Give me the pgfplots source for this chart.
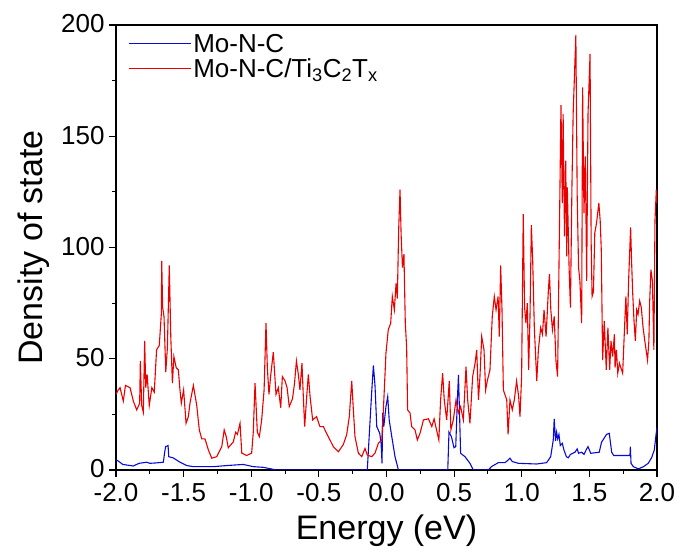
\documentclass[border=0pt]{standalone}
\usepackage{fontspec}
\setmainfont{Liberation Sans}
\usepackage{pgfplots}
\pgfplotsset{compat=1.18}
\definecolor{dosblue}{RGB}{10,10,215}
\definecolor{dosred}{RGB}{235,0,0}

\begin{document}
\begin{tikzpicture}
\useasboundingbox (0,0) rectangle (681bp,558bp);
\begin{axis}[
  at={(116bp,88bp)}, anchor=south west,
  scale only axis, width=541bp, height=445bp,
  xmin=-2, xmax=2, ymin=0, ymax=200,
  xtick={-2,-1.5,...,2}, ytick={0,50,...,200},
  minor x tick num=1, minor y tick num=1,
  xtick pos=bottom, ytick pos=left,
  tick align=outside,
  major tick length=7bp, minor tick length=4bp,
  every tick/.style={black, line width=1.1bp},
  axis line style={line width=1.2bp},
  /pgf/number format/assume math mode=true,
  x tick label style={/pgf/number format/fixed, /pgf/number format/fixed zerofill,
    /pgf/number format/precision=1, yshift=-3bp},
  y tick label style={xshift=-1bp, yshift=1bp},
  ticklabel style={font=\fontsize{26bp}{30bp}\selectfont},
  xlabel={Energy (eV)}, ylabel={Density of state},
  label style={font=\fontsize{34bp}{40bp}\selectfont},
  xlabel style={at={(axis description cs:0.5,-0.137)}, anchor=center},
  ylabel style={at={(axis description cs:-0.152,0.5)}, anchor=center},
  legend style={at={(axis description cs:0.022,0.985)}, anchor=north west, draw=none, fill=none,
    font=\fontsize{26bp}{30bp}\selectfont, row sep=1bp, inner sep=0pt},
  legend cell align=left,
  legend image code/.code={\draw[#1, line width=1.2bp] (0bp,0bp) -- (62bp,0bp);},
]
% Mo-N-C
\addplot[dosblue, line width=1.1bp, no markers, sharp plot] coordinates {
(-2.000,4.5) (-1.983,4) (-1.950,2.5) (-1.872,1.8) (-1.830,3) (-1.773,3.5) (-1.750,3)
(-1.700,3.2) (-1.650,3.5) (-1.640,8) (-1.633,10.5) (-1.615,11) (-1.610,6) (-1.576,5.4)
(-1.527,3.5) (-1.477,2) (-1.428,1.5) (-1.280,1.5) (-1.182,2) (-1.059,2.5) (-0.985,1.5)
(-0.911,1.2) (-0.812,0) (-0.142,0) (-0.110,34.5) (-0.097,47) (-0.085,38) (-0.072,19.5)
(-0.050,16.5) (-0.040,12) (-0.033,3) (-0.028,25.6) (-0.020,19.5) (-0.004,28.5) (0.009,33)
(0.020,22.5) (0.039,15) (0.063,6) (0.088,0) (0.453,0) (0.462,17) (0.480,15) (0.499,10)
(0.512,10.5) (0.524,31.5) (0.532,42.7) (0.540,25.6) (0.548,7.5) (0.580,6) (0.617,3)
(0.642,0) (0.753,0) (0.778,1.6) (0.827,3.3) (0.876,3.3) (0.900,4.5) (0.913,5.3) (0.930,3.8)
(0.975,3) (1.110,2.7) (1.184,3.3) (1.214,6) (1.233,13.5) (1.240,23) (1.250,13) (1.258,17)
(1.266,14) (1.275,16) (1.285,11) (1.300,12) (1.312,9) (1.330,6) (1.344,5.5) (1.360,7)
(1.394,8) (1.410,9.5) (1.420,7.5) (1.443,8) (1.460,7) (1.480,9.5) (1.490,10.5) (1.510,7.5)
(1.573,8) (1.590,12.5) (1.627,16) (1.647,16.5) (1.665,8) (1.680,6.5) (1.800,6.5) (1.803,10.5)
(1.808,3) (1.825,1.5) (1.862,0.5) (1.900,1.5) (1.935,3) (1.960,5.5) (1.980,9) (1.993,16) (2.000,19)
};
\addlegendentry{Mo-N-C}
% Mo-N-C/Ti3C2Tx
\addplot[dosred, line width=1.1bp, no markers, sharp plot] coordinates {
(-2.000,34) (-1.983,36) (-1.970,37) (-1.946,31) (-1.930,38) (-1.896,37) (-1.872,31)
(-1.847,27) (-1.825,30) (-1.820,49) (-1.810,29) (-1.798,26) (-1.788,58) (-1.780,37)
(-1.770,43) (-1.754,29) (-1.735,37) (-1.717,35) (-1.700,54) (-1.680,56) (-1.665,70)
(-1.662,94) (-1.655,73) (-1.645,69) (-1.632,44) (-1.620,55) (-1.606,92) (-1.595,60)
(-1.583,39) (-1.572,51) (-1.555,46) (-1.539,45) (-1.527,36) (-1.517,30) (-1.500,36)
(-1.482,21) (-1.465,24) (-1.453,30) (-1.428,38) (-1.403,29) (-1.384,18) (-1.366,14)
(-1.342,14) (-1.317,9) (-1.292,5.3) (-1.255,6) (-1.218,10.5) (-1.200,18) (-1.185,15)
(-1.170,10) (-1.133,12.6) (-1.115,17) (-1.102,16) (-1.083,21) (-1.070,7.6) (-1.034,6.5)
(-0.997,7.6) (-0.985,17) (-0.972,39) (-0.955,17) (-0.940,15) (-0.923,22.5) (-0.905,36)
(-0.891,66) (-0.881,46) (-0.869,34) (-0.857,42) (-0.837,53) (-0.817,34) (-0.800,37)
(-0.782,28) (-0.770,42) (-0.750,40) (-0.735,37) (-0.719,28.5) (-0.695,32) (-0.680,39)
(-0.666,49) (-0.652,43) (-0.640,36) (-0.625,48) (-0.615,33) (-0.605,19.5) (-0.590,33)
(-0.578,43) (-0.565,33) (-0.546,22.5) (-0.517,24) (-0.492,19.5) (-0.467,19.5) (-0.443,16.5)
(-0.418,13.5) (-0.393,10.5) (-0.356,8.2) (-0.319,11.5) (-0.294,16) (-0.275,24) (-0.257,40)
(-0.245,27) (-0.233,15) (-0.208,7.6) (-0.183,6) (-0.159,9.7) (-0.142,6.7) (-0.109,6)
(-0.085,7.6) (-0.060,12) (-0.035,13.5) (-0.024,25.6) (-0.004,52.5) (0.013,63) (0.031,66)
(0.043,78) (0.058,72) (0.071,84) (0.080,77) (0.090,108) (0.100,126) (0.108,106) (0.118,91)
(0.129,97) (0.139,66) (0.149,55) (0.156,27) (0.174,25.6) (0.186,19.5) (0.211,18) (0.228,13.5)
(0.248,16.5) (0.273,22.5) (0.310,23) (0.335,19.5) (0.352,23) (0.370,18) (0.387,13.5)
(0.400,31.5) (0.415,43.5) (0.427,31.5) (0.445,22.5) (0.464,40) (0.476,18) (0.494,22.5)
(0.514,31.5) (0.531,25.6) (0.548,28.5) (0.568,22.5) (0.588,46.4) (0.600,31.5) (0.617,21)
(0.637,42) (0.655,48) (0.667,54) (0.680,31.5) (0.691,42) (0.704,60) (0.721,54) (0.733,36)
(0.745,40) (0.765,45) (0.782,69) (0.797,78) (0.810,72) (0.825,78) (0.834,60) (0.844,92)
(0.854,72) (0.864,36) (0.889,31.5) (0.899,16) (0.913,31.5) (0.930,27) (0.945,31.5)
(0.962,40) (0.977,33) (0.987,24) (0.999,42) (1.011,115) (1.021,73) (1.031,66) (1.041,75)
(1.051,45) (1.061,69) (1.071,110) (1.081,94) (1.093,64) (1.111,40) (1.123,54) (1.140,64)
(1.153,61) (1.165,72) (1.180,60) (1.197,81) (1.205,88) (1.215,72) (1.227,63) (1.240,69)
(1.253,49) (1.265,42) (1.277,100) (1.290,164) (1.300,120) (1.306,160) (1.316,105) (1.325,139)
(1.333,96) (1.337,127) (1.350,91) (1.360,73) (1.371,127) (1.380,160) (1.400,195.5)
(1.410,123) (1.420,91) (1.430,85) (1.443,66) (1.450,172) (1.460,115.5) (1.470,141) (1.480,85)
(1.490,160) (1.505,187) (1.513,103) (1.520,78) (1.530,80) (1.540,106.5) (1.553,111)
(1.570,120) (1.580,112) (1.588,99) (1.598,49.4) (1.610,67) (1.625,45) (1.637,64) (1.650,45)
(1.660,58) (1.672,51) (1.685,61) (1.690,46) (1.700,54) (1.710,43.5) (1.722,48) (1.746,43.5)
(1.758,61) (1.770,78) (1.780,61) (1.790,85) (1.805,109) (1.812,94) (1.820,80) (1.830,67)
(1.840,58) (1.850,72) (1.860,70) (1.872,76) (1.884,73) (1.897,64) (1.910,58) (1.930,49.4)
(1.940,58) (1.946,76) (1.955,90) (1.966,85) (1.977,54) (1.985,112) (1.995,126) (2.000,120)
};
\addlegendentry{Mo-N-C/Ti\textsubscript{3}C\textsubscript{2}T\textsubscript{x}}
\end{axis}
\end{tikzpicture}
\end{document}
